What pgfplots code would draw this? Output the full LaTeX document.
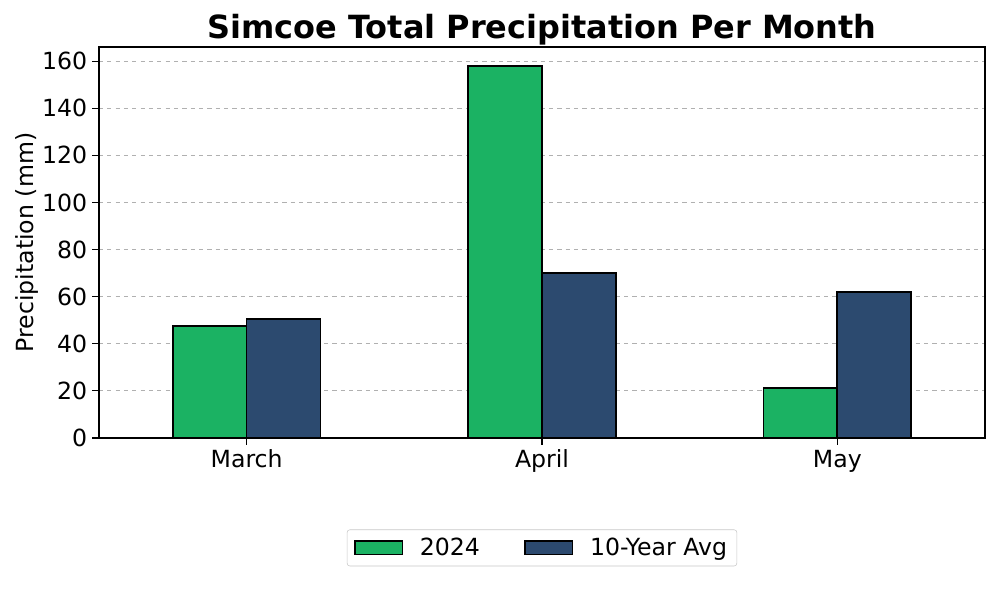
\documentclass[border=0pt]{standalone}
\usepackage{pgfplots}
\pgfplotsset{compat=1.18}
\usepackage{fontspec}
\setmainfont{DejaVu Sans}
\definecolor{cgreen}{HTML}{1BB263}
\definecolor{cblue}{HTML}{2C4A6F}
\definecolor{gridgray}{HTML}{B0B0B0}
\newcommand{\fs}{\fontsize{17}{20}\selectfont}
\begin{document}
\begin{tikzpicture}
\path[use as bounding box] (-71.28pt,-116.64pt) rectangle ++(720pt,432pt);
\begin{axis}[
  at={(0,0)}, anchor=south west,
  scale only axis,
  width=637.9pt, height=281.5pt,
  xmin=-0.5, xmax=2.5,
  ymin=0, ymax=166,
  xtick={0,1,2},
  xticklabels={March,April,May},
  ytick={0,20,...,160},
  tick align=outside,
  xtick pos=bottom, ytick pos=left,
  major tick length=5pt,
  tick style={black, line width=0.8pt},
  ymajorgrids,
  grid style={dashed, gridgray, line width=0.6pt},
  axis line style={line width=0.8pt},
  ticklabel style={font=\fs},
  /pgf/number format/assume math mode=true,
  ylabel={Precipitation (mm)},
  ylabel style={font=\fs, yshift=-4pt},
  title={\bfseries Simcoe Total Precipitation Per Month},
  title style={font=\fontsize{23}{27}\selectfont, at={(0.5,1.022)}, anchor=center},
  ybar=0pt,
  bar width=0.25,
  legend style={at={(0.5,-0.281)}, anchor=center, legend columns=2,
    font=\fs, draw=gridgray!70, rounded corners=2pt,
    /tikz/every odd column/.append style={column sep=10pt},
    /tikz/every even column/.append style={column sep=30pt},
    inner xsep=5pt, inner ysep=4pt},
  legend image code/.code={\draw[#1, line width=1.2pt, sharp corners] (0cm,-0.17cm) rectangle (1.2cm,0.17cm);},
]
\addplot[fill=cgreen, draw=black, line width=1.2pt] coordinates {(0,47.5) (1,157.9) (2,21.2)};
\addplot[fill=cblue, draw=black, line width=1.2pt] coordinates {(0,50.5) (1,70.0) (2,62.0)};
\legend{2024, 10-Year Avg}
\end{axis}
\end{tikzpicture}
\end{document}
